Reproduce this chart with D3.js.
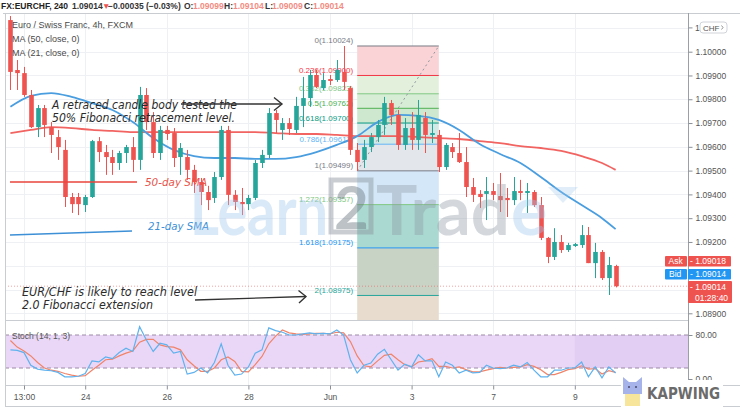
<!DOCTYPE html>
<html><head><meta charset="utf-8">
<script src="https://cdn.jsdelivr.net/npm/d3@7"></script>
<style>body{margin:0;background:#fff}svg{display:block}</style>
</head><body>
<svg id="c" width="740" height="416"></svg>
<script>
// ---------------- DATA ----------------
const candleOpen = [1.10133,1.09923,1.09910,1.09818,1.09683,1.09763,1.09683,1.09641,1.09587,1.09389,
1.09389,1.09355,1.09389,1.09624,1.09578,1.09557,1.09532,1.09574,1.09599,1.09545,
1.09818,1.09704,1.09574,1.09671,1.09658,1.09557,1.09557,1.09503,1.09452,1.09410,
1.09385,1.09473,1.09671,1.09398,1.09368,1.09359,1.09385,1.09532,1.09566,1.09742,
1.09671,1.09700,1.09671,1.09772,1.09805,1.09902,1.09847,1.09885,1.09881,1.09915,
1.09847,1.09587,1.09545,1.09599,1.09641,1.09692,1.09784,1.09734,1.09608,1.09679,
1.09629,1.09721,1.09650,1.09650,1.09515,1.09599,1.09574,1.09536,1.09431,1.09402,
1.09402,1.09414,1.09393,1.09385,1.09376,1.09414,1.09406,1.09410,1.09355,1.09217,
1.09137,1.09200,1.09166,1.09183,1.09187,1.09229,1.09111,1.09158,1.09048,1.09099];
const candleHigh = [1.10150,1.09965,1.09936,1.09839,1.09776,1.09776,1.09704,1.09671,1.09629,1.09406,
1.09406,1.09398,1.09629,1.09641,1.09608,1.09587,1.09583,1.09608,1.09641,1.09852,
1.09847,1.09746,1.09688,1.09688,1.09679,1.09616,1.09587,1.09524,1.09469,1.09436,
1.09494,1.09688,1.09688,1.09418,1.09427,1.09398,1.09545,1.09587,1.09763,1.09755,
1.09721,1.09721,1.09810,1.09894,1.09923,1.09923,1.09910,1.09902,1.09965,1.10024,
1.09856,1.09616,1.09629,1.09658,1.09713,1.09810,1.09797,1.09755,1.09721,1.09746,
1.09797,1.09746,1.09713,1.09671,1.09616,1.09616,1.09658,1.09599,1.09469,1.09418,
1.09473,1.09448,1.09490,1.09427,1.09473,1.09461,1.09448,1.09418,1.09389,1.09221,
1.09258,1.09229,1.09196,1.09196,1.09271,1.09263,1.09196,1.09166,1.09137,1.09104];
const candleLow = [1.09839,1.09839,1.09810,1.09679,1.09641,1.09641,1.09574,1.09545,1.09347,1.09322,
1.09313,1.09326,1.09385,1.09536,1.09482,1.09482,1.09503,1.09532,1.09494,1.09503,
1.09671,1.09553,1.09545,1.09629,1.09515,1.09482,1.09461,1.09406,1.09355,1.09334,
1.09364,1.09461,1.09355,1.09334,1.09313,1.09334,1.09376,1.09511,1.09553,1.09658,
1.09629,1.09650,1.09658,1.09683,1.09768,1.09847,1.09839,1.09860,1.09873,1.09839,
1.09566,1.09499,1.09511,1.09578,1.09620,1.09650,1.09692,1.09587,1.09587,1.09587,
1.09587,1.09574,1.09616,1.09494,1.09503,1.09553,1.09532,1.09389,1.09368,1.09343,
1.09292,1.09376,1.09326,1.09305,1.09355,1.09376,1.09322,1.09347,1.09208,1.09111,
1.09124,1.09154,1.09158,1.09179,1.09175,1.09111,1.09048,1.09040,1.08977,1.09009];
const candleClose = [1.09915,1.09910,1.09818,1.09683,1.09763,1.09692,1.09650,1.09599,1.09389,1.09359,
1.09359,1.09389,1.09624,1.09578,1.09557,1.09532,1.09574,1.09599,1.09545,1.09818,
1.09704,1.09574,1.09671,1.09654,1.09553,1.09595,1.09503,1.09452,1.09410,1.09376,
1.09473,1.09671,1.09398,1.09368,1.09359,1.09385,1.09532,1.09566,1.09742,1.09713,
1.09700,1.09675,1.09772,1.09805,1.09902,1.09852,1.09881,1.09877,1.09923,1.09873,
1.09587,1.09536,1.09599,1.09641,1.09692,1.09784,1.09734,1.09608,1.09679,1.09629,
1.09734,1.09650,1.09658,1.09515,1.09608,1.09578,1.09536,1.09431,1.09398,1.09389,
1.09414,1.09398,1.09376,1.09376,1.09414,1.09406,1.09414,1.09355,1.09217,1.09137,
1.09200,1.09166,1.09187,1.09191,1.09229,1.09111,1.09158,1.09048,1.09103,1.09014];

const maIndex = [0,3,6,9,12,15,18,21,24,27,30,33,36,39,42,45,48,51,54,57,60,63,66,69,72,75,78,81,84,87,89];
const ma50 = [1.09658,1.09671,1.09683,1.09679,1.09671,1.09667,1.09662,1.09662,1.09662,1.09662,1.09662,1.09662,1.09662,1.09658,1.09654,1.09654,1.09650,1.09645,1.09645,1.09645,1.09641,1.09637,1.09633,1.09624,1.09616,1.09603,1.09595,1.09583,1.09561,1.09532,1.09503];
const ma21 = [1.09768,1.09814,1.09826,1.09810,1.09784,1.09755,1.09704,1.09637,1.09587,1.09561,1.09553,1.09553,1.09549,1.09549,1.09557,1.09578,1.09608,1.09645,1.09704,1.09734,1.09730,1.09713,1.09671,1.09612,1.09570,1.09532,1.09473,1.09410,1.09355,1.09300,1.09254];

const stochK = [53,52,48,25,18,16,15,12,4,4, 5,10,33,31,40,37,48,56,50,95, 71,50,65,62,47,50,9,12,20,11,
30,64,25,7,9,22,47,53,93,88, 85,80,80,82,84,82,83,82,89,80, 35,11,25,29,45,54,35,16,27,22,
44,33,33,4,31,25,11,16,11,12, 25,20,19,20,25,22,30,16,4,4, 16,16,20,20,31,4,22,2,22,11];
const stochD = [70,58,51,42,30,20,16,14,10,7, 5,6,16,25,35,36,42,47,51,67, 72,72,62,59,58,53,35,24,14,14,
20,35,40,32,14,13,26,41,64,78, 89,84,82,81,82,83,83,82,85,84, 68,42,24,22,33,43,45,35,26,22,
31,33,37,23,23,20,22,17,13,13, 16,19,21,20,21,22,26,23,17,8, 8,12,17,19,24,18,19,9,15,12];

const fibLevels = [0,0.236,0.382,0.5,0.618,0.786,1,1.272,1.618,2,2.618];
const fibPrices = [1.10024,1.09900,1.09823,1.09762,1.09700,1.09611,1.09499,1.09357,1.09175,1.08975,1.08699];
const fibStartIndex = 51, fibEndIndex = 63;

const priceTicks = [1.089,1.092,1.093,1.094,1.095,1.096,1.097,1.098,1.099,1.100];
const priceGrid = [1.089,1.090,1.091,1.092,1.093,1.094,1.095,1.096,1.097,1.098,1.099,1.100,1.101];
const timeTickIndex = [2,11,23,35,47,59,71,83];
const timeTickLabels = ['13:00','24','26','28','Jun','3','7','9'];
const stochTicks = [0,80];
const lastPrice = 1.09014, askPrice = 1.09018, bidPrice = 1.09014;

// ---------------- LAYOUT ----------------
const svg = d3.select('#c');
const PL=5, PR=688, PT=13, PB=320, ST=321, SB=385;
const x = d3.scaleLinear().domain([0,89]).range([10.4,615.6]);
const y = d3.scaleLinear().domain([1.089,1.100]).range([313.3,51.7]);
const ys = d3.scaleLinear().domain([0,100]).range([379,324]);
const UP='#26a69a', DN='#ef5350';
const F = '"Liberation Sans", Arial, sans-serif';

svg.append('rect').attr('width',740).attr('height',416).attr('fill','#fff');
const defs = svg.append('defs');
defs.append('clipPath').attr('id','mainClip').append('rect').attr('x',PL).attr('y',PT).attr('width',PR-PL).attr('height',PB-PT);
defs.append('clipPath').attr('id','stClip').append('rect').attr('x',PL).attr('y',ST).attr('width',PR-PL).attr('height',SB-ST);

// grid
const grid = svg.append('g').attr('stroke','#eef0f4').attr('stroke-width',1);
priceGrid.forEach(p=>grid.append('line').attr('x1',PL).attr('x2',PR).attr('y1',Math.round(y(p))+0.5).attr('y2',Math.round(y(p))+0.5));
timeTickIndex.forEach(i=>{
  grid.append('line').attr('x1',Math.round(x(i))+0.5).attr('x2',Math.round(x(i))+0.5).attr('y1',PT).attr('y2',PB);
  grid.append('line').attr('x1',Math.round(x(i))+0.5).attr('x2',Math.round(x(i))+0.5).attr('y1',ST).attr('y2',SB);
});

// ---------------- FIB ----------------
const fibBandColors = ['#f9d3d5','#e2f0dc','#d8edd5','#cde8cf','#d2e9e6','#e3e6ea','#d3e7f8','#a9d9d0','#c8d2c5','#e7dccd'];
const fibLineColors = ['#787b86','#f23645','#81c784','#4caf50','#089981','#64b5f6','#787b86','#81c784','#2196f3','#26a69a','#f23645'];
const main = svg.append('g').attr('clip-path','url(#mainClip)');
const fx0 = x(fibStartIndex), fx1 = x(fibEndIndex);
for (let k=1;k<fibPrices.length;k++){
  main.append('rect').attr('x',fx0).attr('width',fx1-fx0)
    .attr('y',y(fibPrices[k-1])).attr('height',y(fibPrices[k])-y(fibPrices[k-1]))
    .attr('fill',fibBandColors[k-1]);
}
fibPrices.forEach((p,k)=>{
  main.append('line').attr('x1',fx0).attr('x2',fx1).attr('y1',y(p)).attr('y2',y(p))
    .attr('stroke',fibLineColors[k]).attr('stroke-width',1);
  main.append('text').attr('x',fx0-4).attr('y',y(p)-2.5).attr('text-anchor','end')
    .attr('font-family',F).attr('font-size',8).attr('fill',fibLineColors[k])
    .text(fibLevels[k]+'('+p.toFixed(5)+')');
});
main.append('line').attr('x1',fx0).attr('y1',y(fibPrices[6])).attr('x2',fx1).attr('y2',y(fibPrices[0]))
  .attr('stroke','#9598a1').attr('stroke-width',1).attr('stroke-dasharray','2,3');

// SMA annotation labels (under candles)
const ann = svg.append('g');
ann.append('line').attr('x1',10).attr('x2',137).attr('y1',182).attr('y2',182).attr('stroke','#e8453c').attr('stroke-width',1.6);
ann.append('text').attr('x',145).attr('y',186).attr('font-family','"DejaVu Sans", sans-serif').attr('font-style','italic')
  .attr('font-size',11).attr('fill','#e8534a').attr('textLength',62).attr('lengthAdjust','spacingAndGlyphs').text('50-day SMA');
ann.append('line').attr('x1',10).attr('x2',132).attr('y1',235).attr('y2',231).attr('stroke','#3d8fd6').attr('stroke-width',1.6);
ann.append('text').attr('x',148).attr('y',230).attr('font-family','"DejaVu Sans", sans-serif').attr('font-style','italic')
  .attr('font-size',11).attr('fill','#3d8fd6').attr('textLength',61).attr('lengthAdjust','spacingAndGlyphs').text('21-day SMA');

// price line
main.append('line').attr('x1',PL).attr('x2',PR).attr('y1',y(lastPrice)).attr('y2',y(lastPrice))
  .attr('stroke','#ef5350').attr('stroke-opacity',0.55).attr('stroke-dasharray','1,2');

// ---------------- MAs ----------------
const maLine = d3.line().x((d,k)=>x(maIndex[k])).y(d=>y(d)).curve(d3.curveMonotoneX);
main.append('path').attr('d',maLine(ma50)).attr('fill','none').attr('stroke','#ef5350').attr('stroke-width',1.8).attr('stroke-opacity',0.9);
main.append('path').attr('d',maLine(ma21)).attr('fill','none').attr('stroke','#4a9ee0').attr('stroke-width',1.8);

// ---------------- CANDLES ----------------
const cg = main.append('g');
const bw = 4.6;
candleOpen.forEach((o,i)=>{
  const c = candleClose[i], col = c>=o?UP:DN;
  const cx = Math.round(x(i))+0.5;
  cg.append('line').attr('x1',cx).attr('x2',cx).attr('y1',y(candleHigh[i])).attr('y2',y(candleLow[i])).attr('stroke',col).attr('stroke-width',1);
  const top = y(Math.max(o,c)), bot = y(Math.min(o,c));
  cg.append('rect').attr('x',cx-bw/2).attr('width',bw).attr('y',top).attr('height',Math.max(1,bot-top)).attr('fill',col);
});

// ---------------- ANNOTATIONS ----------------
const AF = '"DejaVu Sans", Verdana, sans-serif';
const a2 = svg.append('g').attr('font-family',AF).attr('font-style','italic').attr('font-size',11.5).attr('fill','#2b2b2b');
a2.append('text').attr('x',52).attr('y',109).attr('textLength',185).attr('lengthAdjust','spacingAndGlyphs').text('A retraced candle body tested the');
a2.append('text').attr('x',52).attr('y',121.5).attr('textLength',183).attr('lengthAdjust','spacingAndGlyphs').text('50%  Fibonacci retracement level.');
a2.append('text').attr('x',22).attr('y',296).attr('textLength',175).attr('lengthAdjust','spacingAndGlyphs').text('EUR/CHF is likely to reach level');
a2.append('text').attr('x',22).attr('y',308.5).attr('textLength',131).attr('lengthAdjust','spacingAndGlyphs').text('2.0 Fibonacci  extension');
const arr = svg.append('g').attr('stroke','#333').attr('stroke-width',1.4).attr('fill','none');
arr.append('line').attr('x1',181).attr('y1',104).attr('x2',282).attr('y2',104);
arr.append('path').attr('d','M274,97.5 L282,104 L274,110.5');
arr.append('line').attr('x1',195).attr('y1',300).attr('x2',306).attr('y2',296.5);
arr.append('path').attr('d','M298.5,290.5 L306,296.5 L299,303');

// ---------------- STOCH ----------------
svg.append('rect').attr('x',PL).attr('width',PR-PL).attr('y',ys(80)).attr('height',ys(20)-ys(80)).attr('fill','#ead7f7');
svg.append('rect').attr('x',x(83)).attr('width',PR-x(83)).attr('y',ys(80)).attr('height',ys(20)-ys(80)).attr('fill','#7e57c2').attr('fill-opacity',0.07);
[80,20].forEach(v=>svg.append('line').attr('x1',PL).attr('x2',PR).attr('y1',ys(v)).attr('y2',ys(v))
  .attr('stroke','#9c8aa6').attr('stroke-dasharray','4,3').attr('stroke-width',1));
const st = svg.append('g').attr('clip-path','url(#stClip)');
const sLine = d3.line().x((d,i)=>x(i)).y(d=>ys(d));
st.append('path').attr('d',sLine(stochD)).attr('fill','none').attr('stroke','#f0846a').attr('stroke-width',1.2);
st.append('path').attr('d',sLine(stochK)).attr('fill','none').attr('stroke','#5fb2ee').attr('stroke-width',1.2);
svg.append('text').attr('x',12).attr('y',339).attr('font-family',F).attr('font-size',8.5).attr('fill','#555').text('Stoch (14, 1, 3)');

// ---------------- FRAME & AXES ----------------
const fr = svg.append('g').attr('stroke','#c9ccd1').attr('stroke-width',1).attr('fill','none');
fr.append('line').attr('x1',3).attr('x2',740).attr('y1',13.5).attr('y2',13.5);
fr.append('line').attr('x1',5.5).attr('x2',5.5).attr('y1',13).attr('y2',406);
fr.append('line').attr('x1',5).attr('x2',740).attr('y1',406.5).attr('y2',406.5);
fr.append('line').attr('x1',5).attr('x2',PR).attr('y1',320.5).attr('y2',320.5);
fr.append('line').attr('x1',5).attr('x2',740).attr('y1',385.5).attr('y2',385.5);
fr.append('line').attr('x1',PR+0.5).attr('x2',PR+0.5).attr('y1',13).attr('y2',406).attr('stroke','#9aa0a6');

const styleAxis = g => { g.select('.domain').remove(); g.selectAll('line').attr('stroke','#8a8f96');
  g.selectAll('text').attr('font-family',F).attr('font-size',8.5).attr('fill','#555'); };
svg.append('g').attr('transform',`translate(${PR+0.5},0)`)
  .call(d3.axisRight(y).tickValues(priceTicks).tickFormat(d3.format('.5f')).tickSize(4).tickPadding(3)).call(styleAxis);
svg.append('g').attr('transform',`translate(${PR+0.5},0)`)
  .call(d3.axisRight(ys).tickValues(stochTicks).tickFormat(d3.format('.2f')).tickSize(4).tickPadding(3)).call(styleAxis);
svg.append('g').attr('transform',`translate(0,${SB+0.5})`)
  .call(d3.axisBottom(x).tickValues(timeTickIndex).tickFormat((d,k)=>timeTickLabels[k]).tickSize(4).tickPadding(4)).call(styleAxis);

// top axis label partly hidden by the CHF box
svg.append('line').attr('x1',PR+0.5).attr('x2',PR+4.5).attr('y1',y(1.101)).attr('y2',y(1.101)).attr('stroke','#8a8f96');
svg.append('text').attr('x',695).attr('y',y(1.101)+3).attr('font-family',F).attr('font-size',8.5).attr('fill','#555').text('1.');
svg.append('rect').attr('x',700).attr('y',22).attr('width',27).attr('height',11).attr('rx',3).attr('fill','#fff').attr('stroke','#d0d3d8');
svg.append('text').attr('x',703).attr('y',30.5).attr('font-family',F).attr('font-size',8).attr('fill','#555').text('CHF');
svg.append('path').attr('d','M721.5,25.5 Q724.5,27.5 721.5,29.5').attr('fill','none').attr('stroke','#777').attr('stroke-width',0.8);

// Ask / Bid / price boxes
function tag(x0,y0,w,h,col,txt,tx){
  svg.append('rect').attr('x',x0).attr('y',y0).attr('width',w).attr('height',h).attr('fill',col).attr('rx',1);
  svg.append('text').attr('x',tx).attr('y',y0+h-2.5).attr('font-family',F).attr('font-size',8.5).attr('fill','#fff').text(txt);
}
tag(665,256,22,10.5,'#ef5350','Ask',668.5);
tag(688,256,43,10.5,'#ef5350','- '+askPrice.toFixed(5),690);
tag(665,269,22,10.5,'#2196f3','Bid',669);
tag(688,269,43,10.5,'#2196f3','- '+bidPrice.toFixed(5),690);
svg.append('rect').attr('x',688).attr('y',281).attr('width',44).attr('height',22).attr('fill','#ef5350').attr('rx',1);
svg.append('text').attr('x',690).attr('y',290).attr('font-family',F).attr('font-size',8.5).attr('fill','#fff').text('- '+lastPrice.toFixed(5));
svg.append('text').attr('x',695).attr('y',300.5).attr('font-family',F).attr('font-size',8.5).attr('fill','#fff').text('01:28:40');

// legend texts
const lg = svg.append('g').attr('font-family',F).attr('font-size',9).attr('fill','#4a4a4a');
lg.append('text').attr('x',12).attr('y',28).text('Euro / Swiss Franc, 4h, FXCM');
lg.append('text').attr('x',12).attr('y',42).text('MA (50, close, 0)');
lg.append('text').attr('x',12).attr('y',56).text('MA (21, close, 0)');

// header
const hd = svg.append('g').attr('font-family',F).attr('font-size',8.5).attr('font-weight','bold');
const hp = [[1,'FX:EURCHF, 240','#222'],[72,'1.09014','#333'],[102,'▼','#ef5350'],[108,'−0.00035','#333'],[146,'(−0.03%)','#333'],
  [184,'O:','#333'],[193,'1.09099','#f28b82'],[224,'H:','#333'],[233,'1.09104','#f28b82'],[265,'L:','#333'],[272,'1.09009','#f28b82'],[304,'C:','#333'],[313,'1.09014','#f28b82']];
hp.forEach(d=>hd.append('text').attr('x',d[0]).attr('y',9).attr('fill',d[2]).text(d[1]));

// ---------------- WATERMARKS ----------------
const wm = svg.append('g').attr('font-family','Lato, "Open Sans", sans-serif').attr('font-weight','bold').attr('font-size',68);
wm.append('text').attr('x',190).attr('y',235).attr('fill','#9cc6ec').attr('fill-opacity',0.38).attr('textLength',138).attr('lengthAdjust','spacingAndGlyphs').text('Learn');
wm.append('rect').attr('x',331).attr('y',180).attr('width',40).attr('height',52).attr('fill','none').attr('stroke','#8a939c').attr('stroke-opacity',0.45).attr('stroke-width',5);
wm.append('text').attr('x',334).attr('y',229).attr('fill','#6d7780').attr('fill-opacity',0.45).attr('font-size',60).text('2');
wm.append('text').attr('x',376).attr('y',235).attr('fill','#8d98a3').attr('fill-opacity',0.38).attr('textLength',134).attr('lengthAdjust','spacingAndGlyphs').text('Trad');
wm.append('text').attr('x',511).attr('y',235).attr('fill','#9cc6ec').attr('fill-opacity',0.38).text('e');
wm.append('path').attr('d','M548,187 L578,187 L563,203 Z').attr('fill','#9cc6ec').attr('fill-opacity',0.3);

// KAPWING
svg.append('rect').attr('x',621).attr('y',380).attr('width',102).attr('height',30).attr('fill','#fff');
svg.append('path').attr('d','M623,377 L629,382 L636,382 L642,377 L642,394 L623,394 Z').attr('fill','#a5b3ea');
svg.append('rect').attr('x',625).attr('y',394).attr('width',15).attr('height',12).attr('fill','#f6e59b');
svg.append('circle').attr('cx',629).attr('cy',387).attr('r',1).attr('fill','#4a4a6a');
svg.append('circle').attr('cx',636).attr('cy',387).attr('r',1).attr('fill','#4a4a6a');
svg.append('text').attr('x',647).attr('y',399).attr('font-family','"DejaVu Sans", sans-serif').attr('font-weight','bold')
  .attr('font-size',15).attr('fill','#6b6b6b').attr('textLength',73).attr('lengthAdjust','spacingAndGlyphs').text('KAPWING');
</script>
</body></html>
